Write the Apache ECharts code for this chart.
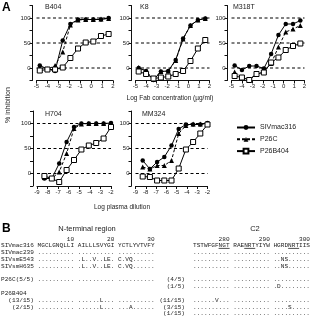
<!DOCTYPE html>
<html>
<head>
<meta charset="UTF-8">
<title>Neutralization curves</title>
<script src="https://cdn.jsdelivr.net/npm/echarts@6/dist/echarts.min.js"></script>
<style type="text/css">
    html,body{ margin:0; padding:0; background:#fff; }
</style>
</head>
<body>
<div id="container" style="width:315px;height:325px"></div>
<script type="text/javascript">
// x positions (log units)
var fabX = [-4.7, -4.0, -3.3, -2.6, -1.9, -1.2, -0.5, 0.2, 0.9, 1.6];
var plasmaX = [-8.3, -7.6, -6.9, -6.2, -5.5, -4.8, -4.1, -3.4, -2.7, -2.0];

// % inhibition, per panel
var b404Mac  = [5, -2, -6, 55, 88, 97, 97, 97, 97, 100];
var b404P26C = [0, -3, 5, 32, 86, 96, 97, 97, 98, 99];
var b404P26B = [-5, -3, -3, 1, 20, 39, 51, 53, 64, 68];

var k8Mac  = [0, -6, -24, -7, -6, 16, 59, 85, 96, 99];
var k8P26C = [1, -6, -23, -7, -6, 15, 58, 85, 96, 99];
var k8P26B = [-7, -12, -21, -19, -17, -12, -6, 14, 39, 56];

var m318Mac  = [5, -4, 4, 4, -1, 28, 66, 88, 88, 95];
var m318P26C = [-8, -19, -23, -12, -7, 9, 42, 72, 78, 85];
var m318P26B = [-16, -19, -24, -12, -9, 11, 21, 36, 44, 49];

var h704Mac  = [-10, -10, 20, 63, 93, 100, 100, 100, 100, 101];
var h704P26C = [-8, -10, 3, 40, 90, 99, 100, 100, 100, 100];
var h704P26B = [-5, -10, -17, 7, 27, 48, 56, 61, 70, 93];

var mm324Mac  = [26, 9, 23, 33, 56, 89, 98, 98, 98, 101];
var mm324P26C = [13, 9, 16, 16, 26, 80, 96, 99, 99, 100];
var mm324P26B = [-6, -7, -14, -14, -14, 10, 48, 63, 80, 98];

var panelNames = ['B404', 'K8', 'M318T', 'H704', 'MM324'];
var seriesNames = ['SIVmac316', 'P26C', 'P26B404'];
var refLines = [0, 50, 100];

// sequence alignment (part B)
var seqLeft = [
  '                  10         20         30',
  'SIVmac316 MGCLGNQLLI AILLLSVYGI YCTLYVTVFY',
  'SIVmac239 .......... .......... ..........',
  'SIVsmE543 .......... .L..V..LE. C.VQ......',
  'SIVsmH635 .......... .L..V..LE. C.VQ......',
  ' ',
  'P26C(5/5) .......... .......... ..........',
  ' ',
  'P26B404',
  '  (13/15) .......... ......L... ..........',
  '   (2/15) .......... ......L... ...A......',
  ' '
];
var labelsRight = [' ', ' ', ' ', ' ', ' ', ' ', '(4/5)', '(1/5)', ' ', '(11/15)', '(3/15)', '(1/15)'];
var seqRight = [
  '       280        290        300',
  'TSTWFGFNGT RAENRTYIYW HGRDNRTIIS',
  '.......... .......... ..........',
  '.......... .......... ..NS......',
  '.......... .......... ..NS......',
  ' ',
  '.......... .......... ..........',
  '.......... .......... .D........',
  ' ',
  '......V... .......... ..........',
  '.......... .......... ....S.....',
  '.......... .......... ..........'
];
var glycanSites = [[7, 3], [14, 3], [26, 3]]; // [start char, length] underlined in C2

var FONT = 'Liberation Sans';
var MONO = 'Liberation Mono';
var monoSize = 6.1, charW = monoSize * 0.6, rowH = 6.8;

function pairs(xs, ys) {
    return xs.map(function (x, i) { return [x, ys[i]]; });
}

// plot areas: [left, top, width, height]
var boxes = [
    [36.5, 5.5, 76.5, 75],
    [135.5, 5.5, 74, 75],
    [231.5, 5.5, 73, 75],
    [37, 111, 74, 75],
    [135.5, 111, 72, 75]
];

var grids = [], xAxes = [], yAxes = [], series = [];
boxes.forEach(function (b, i) {
    grids.push({ left: b[0], top: b[1], width: b[2], height: b[3] });
    var fab = i < 3;
    xAxes.push({
        type: 'value', gridIndex: i,
        min: fab ? -5 : -9, max: fab ? 2 : -2, interval: 1,
        axisLine: { onZero: false, lineStyle: { color: '#111', width: 1 } },
        axisTick: { length: 3, lineStyle: { color: '#111' } },
        axisLabel: { fontSize: 6, color: '#222', margin: 3, fontFamily: FONT },
        splitLine: { show: false }
    });
    yAxes.push({
        type: 'value', gridIndex: i, offset: 4,
        min: -25, max: 125, interval: 25,
        axisLine: { show: true, onZero: false, lineStyle: { color: '#111', width: 1 } },
        axisTick: { show: true, length: 3, lineStyle: { color: '#111' } },
        axisLabel: {
            fontSize: 6, color: '#222', margin: 2, fontFamily: FONT,
            formatter: function (v) { return (v === 0 || v === 50 || v === 100) ? String(v) : ''; }
        },
        splitLine: { show: false }
    });
});

var sets = [
    [b404Mac, b404P26C, b404P26B],
    [k8Mac, k8P26C, k8P26B],
    [m318Mac, m318P26C, m318P26B],
    [h704Mac, h704P26C, h704P26B],
    [mm324Mac, mm324P26C, mm324P26B]
];
sets.forEach(function (s, i) {
    var xs = i < 3 ? fabX : plasmaX;
    var xr = [xAxes[i].min, xAxes[i].max];
    // dashed reference levels
    refLines.forEach(function (v) {
        series.push({
            type: 'line', xAxisIndex: i, yAxisIndex: i, silent: true, z: 1,
            data: [[xr[0], v], [xr[1], v]], symbol: 'none',
            lineStyle: { color: '#000', width: 1, type: [3, 2.5] }
        });
    });
    series.push({
        name: seriesNames[0], type: 'line', xAxisIndex: i, yAxisIndex: i,
        data: pairs(xs, s[0]), symbol: 'circle', symbolSize: 4.5, z: 3,
        itemStyle: { color: '#000' }, lineStyle: { color: '#000', width: 1 }
    });
    series.push({
        name: seriesNames[1], type: 'line', xAxisIndex: i, yAxisIndex: i,
        data: pairs(xs, s[1]), symbol: 'triangle', symbolSize: 5, z: 2,
        itemStyle: { color: '#000' }, lineStyle: { color: '#000', width: 1, type: [3, 2] }
    });
    series.push({
        name: seriesNames[2], type: 'line', xAxisIndex: i, yAxisIndex: i,
        data: pairs(xs, s[2]), symbol: 'rect', symbolSize: 5, z: 4,
        itemStyle: { color: '#fff', borderColor: '#000', borderWidth: 1 },
        lineStyle: { color: '#000', width: 1 }
    });
});

// texts
var graphics = [
    { type: 'text', left: 2, top: 2, style: { text: 'A', fontSize: 12, fontWeight: 'bold', fontFamily: FONT, fill: '#000' } },
    { type: 'text', left: 2, top: 223, style: { text: 'B', fontSize: 12, fontWeight: 'bold', fontFamily: FONT, fill: '#000' } },
    { type: 'text', x: 8, y: 105, rotation: Math.PI / 2,
      style: { text: '% inhibition', fontSize: 7, fontFamily: FONT, fill: '#222', align: 'center', verticalAlign: 'middle' } },
    { type: 'text', x: 170, y: 98,
      style: { text: 'Log Fab concentration (µg/ml)', fontSize: 6.5, fontFamily: FONT, fill: '#222', align: 'center', verticalAlign: 'middle' } },
    { type: 'text', x: 122, y: 207,
      style: { text: 'Log plasma dilution', fontSize: 6.5, fontFamily: FONT, fill: '#222', align: 'center', verticalAlign: 'middle' } },
    { type: 'text', x: 87, y: 229,
      style: { text: 'N-terminal region', fontSize: 7.5, fontFamily: FONT, fill: '#222', align: 'center', verticalAlign: 'middle' } },
    { type: 'text', x: 255, y: 229,
      style: { text: 'C2', fontSize: 7.5, fontFamily: FONT, fill: '#222', align: 'center', verticalAlign: 'middle' } },
    { type: 'text', x: 1, y: 235.6,
      style: { text: seqLeft.join('\n'), fontSize: monoSize, lineHeight: rowH, fontFamily: MONO, fill: '#222', verticalAlign: 'top' } },
    { type: 'text', x: 185, y: 235.6,
      style: { text: labelsRight.join('\n'), fontSize: monoSize, lineHeight: rowH, fontFamily: MONO, fill: '#222', align: 'right', verticalAlign: 'top' } },
    { type: 'text', x: 193, y: 235.6,
      style: { text: seqRight.join('\n'), fontSize: monoSize, lineHeight: rowH, fontFamily: MONO, fill: '#222', verticalAlign: 'top' } }
];
var titlePos = [[45, 7], [140, 7], [233, 7], [45, 114], [142, 114]];
panelNames.forEach(function (n, i) {
    graphics.push({ type: 'text', x: titlePos[i][0], y: titlePos[i][1],
        style: { text: n, fontSize: 7, fontFamily: FONT, fill: '#222', verticalAlign: 'middle' } });
});
glycanSites.forEach(function (g) {
    var y = 235.6 + rowH * 2 - 0.8;
    graphics.push({ type: 'line', shape: { x1: 193 + g[0] * charW, y1: y, x2: 193 + (g[0] + g[1]) * charW, y2: y },
        style: { stroke: '#222', lineWidth: 0.8 } });
});

var chart = echarts.init(document.getElementById('container'));
chart.setOption({
    animation: false,
    backgroundColor: '#fff',
    textStyle: { fontFamily: FONT },
    legend: {
        orient: 'vertical', left: 231, top: 119,
        itemWidth: 18, itemHeight: 6, itemGap: 4.8,
        data: seriesNames,
        textStyle: { fontSize: 7, color: '#222', fontFamily: FONT }
    },
    grid: grids,
    xAxis: xAxes,
    yAxis: yAxes,
    series: series,
    graphic: graphics
});
</script>
</body>
</html>
